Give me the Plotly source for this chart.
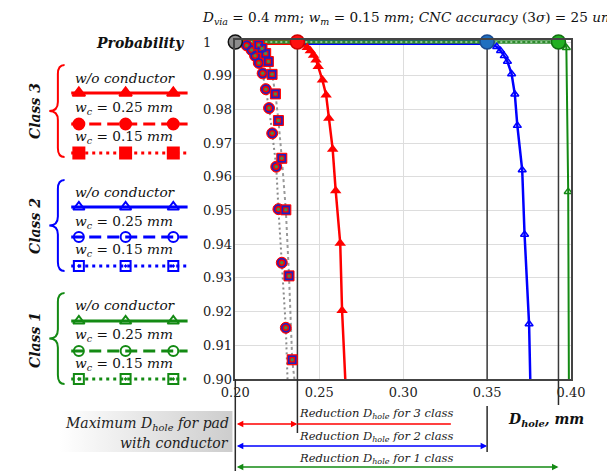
import plotly.graph_objects as go

# ---------------- data ----------------
x_tick_vals = [0.20, 0.25, 0.30, 0.35, 0.40]
x_tick_text = ["0.20", "0.25", "0.30", "0.35", "0.40"]
y_tick_vals = [1.00, 0.99, 0.98, 0.97, 0.96, 0.95, 0.94, 0.93, 0.92, 0.91, 0.90]
y_tick_text = ["1", "0.99", "0.98", "0.97", "0.96", "0.95", "0.94", "0.93", "0.92", "0.91", "0.90"]

d_start = 0.20                      # grey point, P = 1
d_max_c3 = 0.237                    # red point
d_max_c2 = 0.350                    # blue point
d_max_c1 = 0.3925                   # green point

# Class 3, w/o conductor (red, filled triangles)
c3_x = [0.200, 0.237, 0.2428, 0.2447, 0.2466, 0.2481, 0.2494, 0.2519, 0.2541, 0.2557, 0.2580, 0.2598, 0.2625, 0.2636, 0.2655]
c3_y = [1.000, 1.000, 0.9984, 0.9974, 0.9961, 0.9947, 0.9927, 0.9887, 0.9843, 0.9774, 0.9682, 0.9559, 0.9403, 0.9203, 0.9000]
# Class 2, w/o conductor (blue, open triangles)
c2_x = [0.200, 0.350, 0.3557, 0.3580, 0.3602, 0.3621, 0.3646, 0.3665, 0.3680, 0.3709, 0.3723, 0.3750, 0.3757]
c2_y = [1.000, 1.000, 0.9986, 0.9974, 0.9959, 0.9942, 0.9905, 0.9845, 0.9752, 0.9620, 0.9429, 0.9163, 0.9000]
# Class 1, w/o conductor (green, open triangles)
c1_x = [0.200, 0.3925, 0.3962, 0.3972, 0.3983, 0.3987]
c1_y = [1.000, 1.000, 0.9997, 0.9983, 0.9556, 0.9000]
c1_marker_idx = [3, 4]

# with conductor (identical for the three classes)
wc25_x = [0.200, 0.2040, 0.2068, 0.2097, 0.2118, 0.2140, 0.2163, 0.2182, 0.2201, 0.2220, 0.2244, 0.2257, 0.2277, 0.2301, 0.2311]
wc25_y = [1.000, 0.9997, 0.9990, 0.9976, 0.9959, 0.9938, 0.9907, 0.9860, 0.9804, 0.9729, 0.9630, 0.9504, 0.9345, 0.9152, 0.9000]
wc15_x = [0.200, 0.2100, 0.2139, 0.2159, 0.2181, 0.2197, 0.2219, 0.2239, 0.2257, 0.2277, 0.2301, 0.2320, 0.2339, 0.2352]
wc15_y = [1.000, 0.9998, 0.9991, 0.9981, 0.9966, 0.9942, 0.9904, 0.9846, 0.9767, 0.9655, 0.9502, 0.9306, 0.9057, 0.9000]

# ---------------- layout constants ----------------
W, H = 607, 471
PL, PR, PT, PB = 232, 584, 40, 379
X_RANGE = [0.20, 0.40]
Y_RANGE = [0.90, 1.0006]
FONT = "DejaVu Serif"
RED, BLUE, GREEN = "#ff0000", "#0000ff", "#138a13"


def xpix(x):
    return PL + (x - X_RANGE[0]) / (X_RANGE[1] - X_RANGE[0]) * (PR - PL)


fig = go.Figure()
S = dict(hoverinfo="skip", showlegend=False)

# vertical reference lines inside the plot
for d in [d_max_c3, d_max_c2, d_max_c1]:
    fig.add_trace(go.Scatter(x=[d, d], y=[Y_RANGE[0], 1.0], mode="lines",
                             line=dict(color="#3a3a3a", width=1.5), **S))

# with-conductor lines
fig.add_trace(go.Scatter(x=wc25_x, y=wc25_y, mode="lines",
                         line=dict(color="#8a8a8a", width=2, dash="2px,3px"), **S))
fig.add_trace(go.Scatter(x=wc15_x, y=wc15_y, mode="lines",
                         line=dict(color="#9a9a9a", width=2, dash="3px,3px"), **S))

# top band at P = 1
fig.add_trace(go.Scatter(x=[c2_x[0], c2_x[1]], y=[c2_y[0], c2_y[1]], mode="lines",
                         line=dict(color=BLUE, width=6), **S))
fig.add_trace(go.Scatter(x=[c3_x[0], c3_x[1]], y=[c3_y[0], c3_y[1]], mode="lines",
                         line=dict(color=RED, width=6), **S))
fig.add_trace(go.Scatter(x=[c1_x[0], c1_x[1]], y=[c1_y[0], c1_y[1]], mode="lines",
                         line=dict(color="#2e8b2e", width=3.5), **S))
fig.add_trace(go.Scatter(x=[c1_x[0], c1_x[1]], y=[c1_y[0], c1_y[1]], mode="lines",
                         line=dict(color="#b5dcb5", width=1.3, dash="2px,3px"), **S))

# w/o conductor curves
fig.add_trace(go.Scatter(x=c3_x[1:], y=c3_y[1:], mode="lines", line=dict(color=RED, width=2.5), **S))
fig.add_trace(go.Scatter(x=c3_x[2:-1], y=c3_y[2:-1], mode="markers", cliponaxis=False,
                         marker=dict(symbol="triangle-up", size=10, color=RED), **S))
fig.add_trace(go.Scatter(x=c2_x[1:], y=c2_y[1:], mode="lines", line=dict(color=BLUE, width=2.5), **S))
fig.add_trace(go.Scatter(x=c2_x[2:-1], y=c2_y[2:-1], mode="markers", cliponaxis=False,
                         marker=dict(symbol="triangle-up-open", size=7, color=BLUE, line=dict(width=1.5, color=BLUE)), **S))
fig.add_trace(go.Scatter(x=c1_x[1:], y=c1_y[1:], mode="lines", line=dict(color=GREEN, width=2), **S))
fig.add_trace(go.Scatter(x=[c1_x[i] for i in c1_marker_idx], y=[c1_y[i] for i in c1_marker_idx],
                         mode="markers", cliponaxis=False,
                         marker=dict(symbol="triangle-up-open", size=7, color=GREEN, line=dict(width=1.5, color=GREEN)), **S))

# with-conductor markers (class 3 red, class 2 blue, class 1 green overlapping)
for xs, ys, sym in [(wc25_x[2:-1], wc25_y[2:-1], "circle"), (wc15_x[2:-1], wc15_y[2:-1], "square")]:
    fig.add_trace(go.Scatter(x=xs, y=ys, mode="markers", cliponaxis=False,
                             marker=dict(symbol=sym, size=11 if sym == "circle" else 10, color=RED,
                                         line=dict(color=RED, width=1)), **S))
    fig.add_trace(go.Scatter(x=xs, y=ys, mode="markers", cliponaxis=False,
                             marker=dict(symbol=sym + "-open", size=8 if sym == "circle" else 7, color="#2020c0",
                                         line=dict(color="#2020c0", width=1.6)), **S))
    fig.add_trace(go.Scatter(x=xs, y=ys, mode="markers", cliponaxis=False,
                             marker=dict(symbol="circle", size=3.5, color="#4a8a4a"), **S))

# big points at P = 1
for xv, fc, lc in [(d_start, "#8c8c8c", "#111111"), (d_max_c3, "#ff1010", "#d00000"),
                   (d_max_c2, "#1f6fc0", "#1a4a90"), (d_max_c1, "#22b022", "#117011")]:
    fig.add_trace(go.Scatter(x=[xv], y=[1.0], mode="markers", cliponaxis=False,
                             marker=dict(symbol="circle", size=14, color=fc, line=dict(color=lc, width=1.5)), **S))

# ---------------- overlay (pixel) axis decorations ----------------
O = dict(xaxis="x2", yaxis="y2", hoverinfo="skip", showlegend=False)

# grey gradient box behind "Maximum D_hole ..."
fig.add_trace(go.Scatter(x=[48, 229, 229, 48, 48], y=[411, 411, 452, 452, 411], mode="lines",
                         fill="toself", line=dict(width=0),
                         fillgradient=dict(type="horizontal",
                                           colorscale=[[0, "rgba(255,255,255,1)"], [1, "rgba(205,205,205,1)"]]),
                         **O))

# vertical extension lines below the plot
for d, y0, y1 in [(d_start, PB, H), (d_max_c3, PB, 433), (d_max_c2, 406, 452), (d_max_c1, PB, 405)]:
    fig.add_trace(go.Scatter(x=[xpix(d), xpix(d)], y=[y0, y1], mode="lines",
                             line=dict(color="#2a2a2a", width=1.5), **O))
# red underline continuing after the red arrow
fig.add_trace(go.Scatter(x=[xpix(d_max_c3), 458], y=[424, 424], mode="lines",
                         line=dict(color=RED, width=1.3), **O))

# legend samples
legend_classes = [
    ("Class 3", RED, [78, 108, 137], [93, 124, 153], ["triangle-up", "circle", "square"], (65, 157), 111),
    ("Class 2", BLUE, [192, 222, 250], [207, 237, 266], ["triangle-up-open", "circle-open", "square-open-dot"], (180, 271), 226),
    ("Class 1", GREEN, [305, 335, 364], [321, 351, 379], ["triangle-up-open", "circle-open", "square-open-dot"], (293, 384), 340),
]
dashes = ["solid", "12px,6px", "3px,4px"]
labels = ["<i>w/o conductor</i>", "<i>w</i><sub><i>c</i></sub> = 0.25 <i>mm</i>", "<i>w</i><sub><i>c</i></sub> = 0.15 <i>mm</i>"]
annotations = []
shapes = []
for name, col, ytxt, yline, syms, (btop, bbot), ylab in legend_classes:
    for k in range(3):
        fig.add_trace(go.Scatter(x=[60, 182], y=[yline[k]] * 2, mode="lines",
                                 line=dict(color=col, width=3, dash=dashes[k]), **O))
        filled = not syms[k].endswith(("open", "dot"))
        fig.add_trace(go.Scatter(x=[68, 117, 167], y=[yline[k]] * 3, mode="markers",
                                 marker=dict(symbol=syms[k], size=11 if filled else 10, color=col,
                                             line=dict(color=col, width=2)), **O))
        annotations.append(dict(x=62, y=ytxt[k], xref="x2", yref="y2", xanchor="left", yanchor="middle",
                                text=labels[k], showarrow=False, font=dict(family=FONT, size=13.7, color="#111")))
    ym = (btop + bbot) / 2
    r = 9
    xt, xv, xe = 37, 46, 53
    shapes.append(dict(type="path", xref="x2", yref="y2", line=dict(color=col, width=2),
                       path=(f"M {xe},{btop} Q {xv},{btop} {xv},{btop + r} L {xv},{ym - r} "
                             f"Q {xv},{ym} {xt},{ym} Q {xv},{ym} {xv},{ym + r} L {xv},{bbot - r} "
                             f"Q {xv},{bbot} {xe},{bbot}")))
    annotations.append(dict(x=22, y=ylab, xref="x2", yref="y2", text=f"<b><i>{name}</i></b>", textangle=-90,
                            showarrow=False, font=dict(family=FONT, size=14, color="#111")))

# arrows
for x0, x1, yy, col in [(d_start, d_max_c3, 424, RED), (d_start, d_max_c2, 446, BLUE), (d_start, d_max_c1, 467, GREEN)]:
    annotations.append(dict(x=xpix(x1), y=yy, ax=xpix(x0), ay=yy, xref="x2", yref="y2", axref="x2", ayref="y2",
                            text="", showarrow=True, arrowhead=2, startarrowhead=2, arrowside="end+start",
                            arrowsize=1, arrowwidth=1.3, arrowcolor=col, standoff=0, startstandoff=0))

# reduction texts
for yy, n in [(413, 3), (436, 2), (458, 1)]:
    annotations.append(dict(x=380, y=yy, xref="x2", yref="y2", showarrow=False,
                            text=f"<i>Reduction D</i><sub><i>hole</i></sub><i> for {n} class</i>",
                            font=dict(family=FONT, size=11.5, color="#222")))

annotations += [
    dict(x=227, y=424, xref="x2", yref="y2", xanchor="right", showarrow=False,
         text="<i>Maximum D</i><sub><i>hole</i></sub><i> for pad</i>", font=dict(family=FONT, size=14, color="#222")),
    dict(x=227, y=443, xref="x2", yref="y2", xanchor="right", showarrow=False,
         text="<i>with conductor</i>", font=dict(family=FONT, size=14, color="#222")),
    dict(x=600, y=420, xref="x2", yref="y2", xanchor="right", showarrow=False,
         text="<b><i>D</i></b><sub><b><i>hole</i></b></sub><b><i>, mm</i></b>", font=dict(family=FONT, size=14, color="#111")),
    dict(x=180, y=43, xref="x2", yref="y2", xanchor="right", showarrow=False,
         text="<b><i>Probability</i></b>", font=dict(family=FONT, size=14, color="#111")),
    dict(x=195, y=18, xref="x2", yref="y2", xanchor="left", showarrow=False,
         text=("<i>D</i><sub><i>via</i></sub> = 0.4 <i>mm</i>; <i>w</i><sub><i>m</i></sub> = 0.15 <i>mm</i>; "
               "<i>CNC accuracy</i> (3<i>σ</i>) = 25 <i>um</i>"),
         font=dict(family=FONT, size=13.6, color="#111")),
]
# y tick labels (left aligned)
for v, t in zip(y_tick_vals, y_tick_text):
    annotations.append(dict(x=196 / W, y=v, xref="paper", yref="y", xanchor="left", yanchor="middle",
                            text=t, showarrow=False, font=dict(family=FONT, size=13, color="#222")))

fig.update_layout(
    width=W, height=H, margin=dict(l=0, r=0, t=0, b=0),
    paper_bgcolor="white", plot_bgcolor="rgba(0,0,0,0)", showlegend=False,
    xaxis=dict(domain=[PL / W, PR / W], range=X_RANGE, tickvals=x_tick_vals, ticktext=x_tick_text,
               showgrid=True, gridcolor="#dddddd", gridwidth=1, zeroline=False,
               showline=True, linecolor="#444", linewidth=2, mirror=True, ticks="",
               tickfont=dict(family=FONT, size=13, color="#222"), fixedrange=True),
    yaxis=dict(domain=[(H - PB) / H, (H - PT) / H], range=Y_RANGE, tickvals=y_tick_vals,
               showticklabels=False, showgrid=True, gridcolor="#dddddd", gridwidth=1, zeroline=False,
               showline=True, linecolor="#444", linewidth=2, mirror=True, ticks="", fixedrange=True),
    xaxis2=dict(domain=[0, 1], range=[0, W], visible=False, anchor="y2", fixedrange=True),
    yaxis2=dict(domain=[0, 1], range=[H, 0], visible=False, anchor="x2", fixedrange=True),
    annotations=annotations, shapes=shapes,
)

fig.write_html("out.html", config={"displayModeBar": False},
               post_script="document.body.style.margin='0';document.body.style.overflow='hidden';")
